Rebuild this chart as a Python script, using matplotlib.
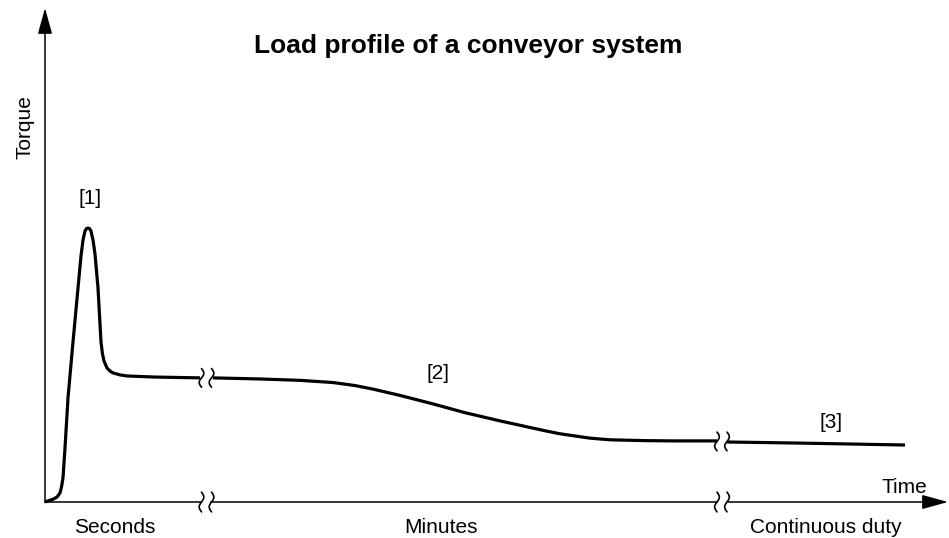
import matplotlib
matplotlib.use("Agg")
import matplotlib.pyplot as plt
import numpy as np

# load profile (time in arbitrary units, torque in % of peak)
start_time = [0, 3, 8, 12, 15, 16.5, 18, 20, 23, 28, 33, 36, 38, 40, 41.5, 43,
              44.5, 46, 48, 50, 53, 56, 57.5, 59, 62, 65, 68, 75, 82, 110, 155]
start_torque = [0, 0.4, 1.0, 1.8, 3.3, 5.5, 8.8, 19.7, 38.0, 58.4, 78.1, 89.8,
                95.6, 98.9, 99.8, 100, 99.8, 98.9, 95.6, 90.5, 78.1, 58.4, 54.0,
                51.5, 48.9, 47.8, 47.1, 46.4, 46.0, 45.6, 45.3]

run_time = [168, 215, 255, 288, 310, 328, 355, 388, 420, 455, 480, 500, 515, 530,
            545, 565, 600, 628, 672]
run_torque = [45.3, 44.9, 44.4, 43.6, 42.5, 41.2, 38.9, 35.8, 32.6, 29.6, 27.6,
              26.0, 24.9, 24.1, 23.3, 22.7, 22.4, 22.3, 22.3]

duty_time = [682, 755, 860]
duty_torque = [21.9, 21.5, 20.8]

# where the time axis is broken
break_time = [161.5, 677]

phase_labels = ["Seconds", "Minutes", "Continuous duty"]
phase_pos = [70, 396, 781]

stage_labels = ["[1]", "[2]", "[3]"]
stage_time = [45, 393.5, 786]
stage_torque = [108.8, 44.9, 27.0]

# pixel scale of the drawing (figure is 949 x 538 px, origin at 45, 502)
PX_Y = 2.74

fig = plt.figure(figsize=(9.49, 5.38), dpi=100)
ax = fig.add_axes([0, 0, 1, 1])
ax.set_xlim(-45, 904)
ax.set_ylim(-36 / PX_Y, 502 / PX_Y)
ax.axis("off")

plt.rcParams["font.family"] = ["Liberation Sans", "DejaVu Sans"]
font = dict(family=["Liberation Sans", "DejaVu Sans"], fontsize=15)


def squiggle(x0, y0, height):
    # small integral-like break mark
    t = np.linspace(-1, 1, 50)
    ax.plot(x0 + 2.3 * np.sin(np.pi * t), y0 + t * height / 2,
            color="black", lw=1.2, solid_capstyle="round", zorder=4)


# the curve
curve = dict(color="black", lw=2.3, solid_joinstyle="round",
             solid_capstyle="butt", zorder=3)
ax.plot(start_time, start_torque, **curve)
ax.plot(run_time, run_torque, **curve)
ax.plot(duty_time, duty_torque, **curve)

# break marks on the curve and the time axis
gap = 5
curve_level = [45.3, 22.1]
for b, lvl in zip(break_time, curve_level):
    squiggle(b - gap, lvl, 6.8)
    squiggle(b + gap, lvl, 6.8)
    squiggle(b - gap, 0, 7.2)
    squiggle(b + gap, 0, 7.2)

# axes with arrows
axis_style = dict(color="black", lw=1.1)
ax.plot([0, break_time[0] - gap], [0, 0], **axis_style)
ax.plot([break_time[0] + gap, break_time[1] - gap], [0, 0], **axis_style)
arrow = dict(arrowstyle="-|>,head_length=0.8,head_width=0.22",
             mutation_scale=20, color="black", lw=1.1, shrinkA=0, shrinkB=0)
ax.annotate("", xy=(903, 0), xytext=(break_time[1] + gap, 0), arrowprops=arrow)
ax.annotate("", xy=(0, 180.3), xytext=(0, 0), arrowprops=arrow)

# texts
ax.text(423, 163.9, "Load profile of a conveyor system", ha="center",
        va="baseline", fontweight="bold", family=font["family"], fontsize=19)
ax.text(-20, 136.9, "Torque", rotation=90, ha="center", va="center", **font)
ax.text(882, 3.3, "Time", ha="right", va="baseline", **font)
for lab, pos in zip(phase_labels, phase_pos):
    ax.text(pos, -11.3, lab, ha="center", va="baseline", **font)
for lab, t, q in zip(stage_labels, stage_time, stage_torque):
    ax.text(t, q, lab, ha="center", va="baseline", **font)

fig.savefig("out.png", dpi=100)
